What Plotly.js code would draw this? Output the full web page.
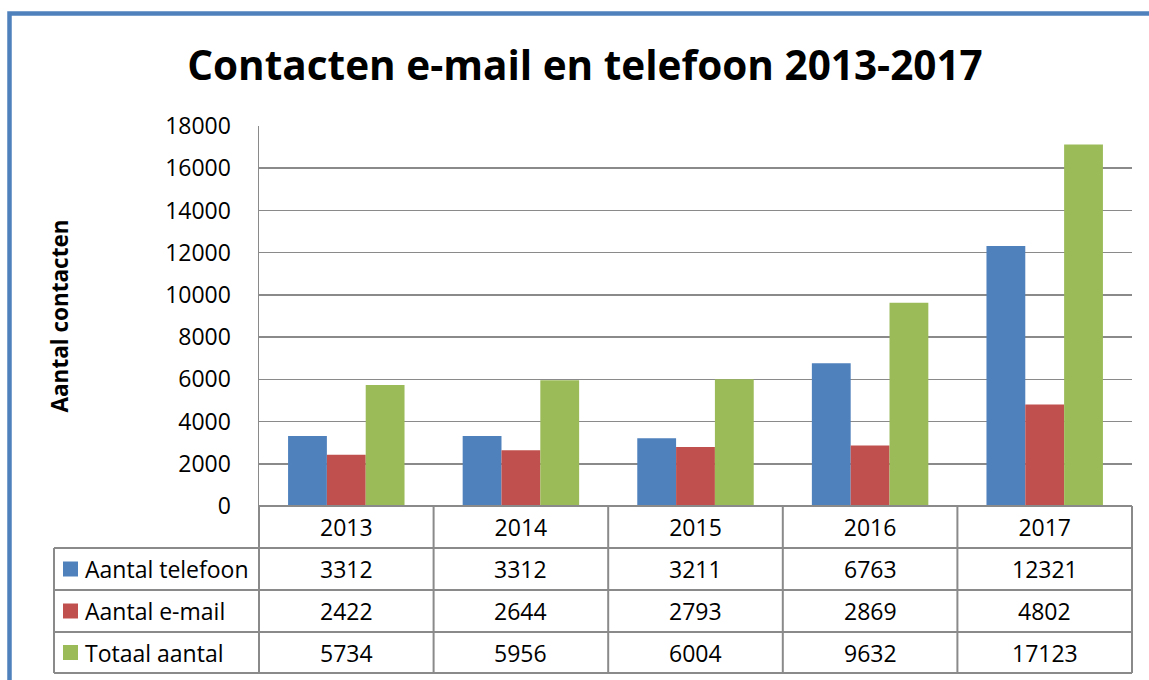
<!DOCTYPE html>
<html><head><meta charset="utf-8">
<script src="https://cdn.plot.ly/plotly-3.0.1.min.js"></script>
<style>html,body{margin:0;padding:0;background:#fff}#chart{width:1149px;height:680px}</style>
</head><body><div id="chart"></div>
<script>
// ---- data ----
const years = ['2013','2014','2015','2016','2017'];
const seriesNames = ['Aantal telefoon','Aantal e-mail','Totaal aantal'];
const telefoon = [3312,3312,3211,6763,12321];
const email = [2422,2644,2793,2869,4802];
const totaal = [5734,5956,6004,9632,17123];
const chartTitle = 'Contacten e-mail en telefoon 2013-2017';
const yTitle = 'Aantal contacten';

// ---- styles ----
const colors = ['#4F81BD','#C0504D','#9BBB59'];
const FONT = 'Open Sans, Liberation Sans, sans-serif';
const FS = 23;
const W = 1149, H = 680;
const L = 259, R = 1132, T = 126, B = 506;
const px2x = p => (p - L) / (R - L);
const py2y = p => (B - p) / (B - T);
const gridCol = '#8a8a8a';
const series = [telefoon, email, totaal];

const traces = series.map((vals, i) => ({
  type: 'bar', name: seriesNames[i], x: years, y: vals,
  marker: {color: colors[i]}, showlegend: false, hoverinfo: 'x+y+name'
}));

// table geometry (pixels)
const rowLines = [506, 548, 590, 632, 673];
const legendLeft = 54;
const shapes = [];
// outer blue frame (cropped)
shapes.push({type:'rect', xref:'paper', yref:'paper',
  x0: px2x(9.5), x1: px2x(W + 30), y0: py2y(H + 30), y1: py2y(13.5),
  line:{color:'#4F81BD', width:4.5}});
// horizontal table lines
rowLines.forEach((py, k) => {
  shapes.push({type:'line', xref:'paper', yref:'paper',
    x0: k === 0 ? 0 : px2x(legendLeft), x1: 1, y0: py2y(py), y1: py2y(py),
    line:{color:gridCol, width:2}});
});
// vertical table lines at category boundaries
for (let i = 0; i <= years.length; i++) {
  shapes.push({type:'line', xref:'paper', yref:'paper',
    x0: i / years.length, x1: i / years.length, y0: py2y(rowLines[0]), y1: py2y(rowLines[4]),
    line:{color:gridCol, width:2}});
}
// legend column left border
shapes.push({type:'line', xref:'paper', yref:'paper',
  x0: px2x(legendLeft), x1: px2x(legendLeft), y0: py2y(rowLines[1]), y1: py2y(rowLines[4]),
  line:{color:gridCol, width:2}});

const annotations = [];
seriesNames.forEach((nm, r) => {
  const cy = (rowLines[r + 1] + rowLines[r + 2]) / 2;
  // legend key
  shapes.push({type:'rect', xref:'paper', yref:'paper',
    x0: px2x(63), x1: px2x(78), y0: py2y(cy + 7.5), y1: py2y(cy - 7.5),
    fillcolor: colors[r], line:{width:0}});
  annotations.push({xref:'paper', yref:'paper', x: px2x(83), y: py2y(cy),
    xanchor:'left', yanchor:'middle', text: nm, showarrow:false,
    font:{family:FONT, size:FS, color:'#000'}});
  series[r].forEach((v, c) => {
    annotations.push({xref:'paper', yref:'paper', x: (c + 0.5) / years.length, y: py2y(cy),
      xanchor:'center', yanchor:'middle', text: String(v), showarrow:false,
      font:{family:FONT, size:FS, color:'#000'}});
  });
});

const layout = {
  width: W, height: H,
  margin: {l: L, r: W - R, t: T, b: H - B},
  paper_bgcolor: '#fff', plot_bgcolor: '#fff',
  font: {family: FONT, color: '#000', size: FS},
  title: {text: chartTitle, font: {family: FONT, size: 40.5, color: '#000', weight: 'bold'},
    x: 585 / W, xanchor: 'center', y: 1 - 66 / H, yanchor: 'middle', xref: 'container', yref: 'container'},
  barmode: 'group', bargap: 0.333, bargroupgap: 0,
  xaxis: {type: 'category', range: [-0.5, 4.5], showgrid: false, zeroline: false, showline: false,
    ticks: '', tickfont: {family: FONT, size: FS, color: '#000'}, ticklabelstandoff: 6, fixedrange: true},
  yaxis: {range: [0, 18000], dtick: 2000, tickformat: 'd', showgrid: true, gridcolor: gridCol, gridwidth: 1.5,
    zeroline: false, showline: true, linecolor: gridCol, linewidth: 1.5, ticks: '',
    tickfont: {family: FONT, size: FS, color: '#000'}, ticklabelstandoff: 22,
    title: {text: yTitle, font: {family: FONT, size: 22.5, color: '#000', weight: 'bold'}, standoff: 90},
    fixedrange: true},
  shapes: shapes,
  annotations: annotations
};

Plotly.newPlot('chart', traces, layout, {displayModeBar: false, staticPlot: true});
</script>
</body></html>
